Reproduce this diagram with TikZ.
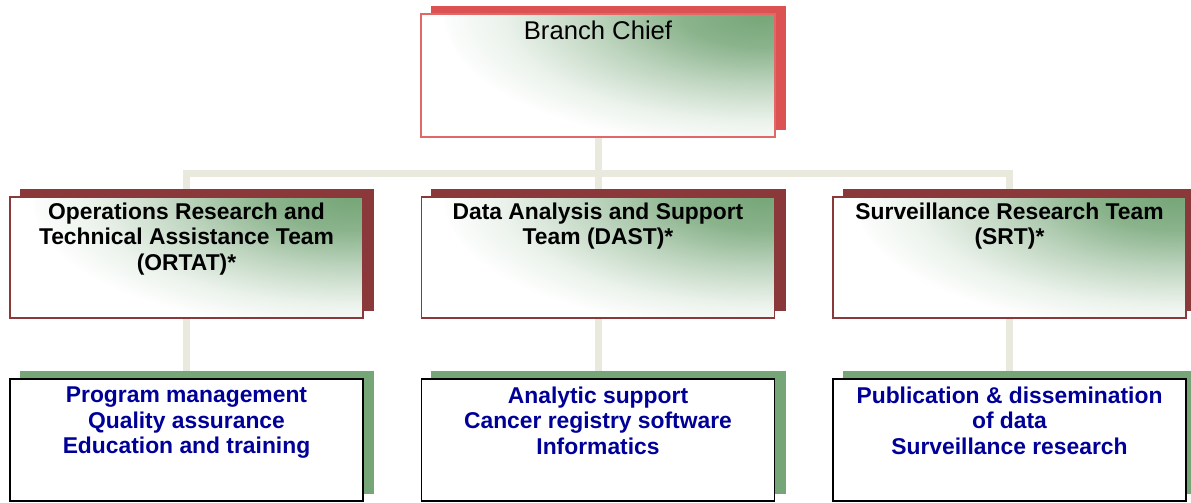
\documentclass[tikz,border=0pt]{standalone}
\usepackage{fontspec}
\setmainfont{Liberation Sans}
\usetikzlibrary{backgrounds}

\definecolor{chiefred}{RGB}{220,82,82}
\definecolor{chiefline}{RGB}{226,104,104}
\definecolor{teamred}{RGB}{139,56,58}
\definecolor{boxgreen}{RGB}{118,166,120}
\definecolor{jobsblue}{RGB}{0,0,153}
\definecolor{linkbeige}{RGB}{233,233,222}

% green corner glow, fading out to white
\pgfdeclareradialshading{cornerglow}{\pgfpoint{0bp}{0bp}}{%
    color(0bp)=(boxgreen); color(6bp)=(boxgreen!85!white);
    color(13bp)=(boxgreen!45!white); color(19bp)=(boxgreen!15!white);
    color(24bp)=(white); color(50bp)=(white)}

\tikzset{
    greenfade/.style={path picture={
        \shade[shading=cornerglow]
            (path picture bounding box.north east) ellipse (#1);}},
    chiefbox/.style={draw=chiefline, line width=1pt, fill=white,
        greenfade={6.6cm and 2.8cm},
        minimum width=7.08cm, minimum height=2.46cm},
    teambox/.style={draw=teamred, line width=1pt, fill=white,
        greenfade={6.6cm and 2.8cm},
        minimum width=7.06cm, minimum height=2.42cm},
    jobsbox/.style={draw=black, line width=1pt, fill=white,
        minimum width=7.06cm, minimum height=2.44cm},
    boxtext/.style={anchor=north, align=center, inner sep=0pt},
    teamtext/.style={boxtext, yshift=-0.12cm, font=\bfseries\fontsize{13}{14.7}\selectfont},
    jobstext/.style={boxtext, yshift=-0.16cm, text=jobsblue, font=\bfseries\fontsize{13}{14.7}\selectfont},
    link/.style={draw=linkbeige, line width=0.14cm}
}

\begin{document}
\begin{tikzpicture}
    \useasboundingbox (0, 0) rectangle (23.82, 10.04);

    % head of the branch
    \node[chiefbox,
        label={[boxtext, yshift=-0.15cm, font=\fontsize{14.6}{17}\selectfont]north:Branch Chief}]
        (chief) at (11.96, 8.53) {};

    % the three teams
    \node[teambox,
        label={[teamtext]north:{Operations Research and\\Technical Assistance Team\\(ORTAT)*}}]
        (ortat) at (3.73, 4.89) {};
    \node[teambox,
        label={[teamtext]north:{Data Analysis and Support\\Team (DAST)*}}]
        (dast) at (11.96, 4.89) {};
    \node[teambox,
        label={[teamtext]north:{Surveillance Research Team\\(SRT)*}}]
        (srt) at (20.19, 4.89) {};

    % what each team does
    \node[jobsbox,
        label={[jobstext]north:{Program management\\Quality assurance\\Education and training}}]
        (ortatjobs) at (3.73, 1.24) {};
    \node[jobsbox,
        label={[jobstext]north:{Analytic support\\Cancer registry software\\Informatics}}]
        (dastjobs) at (11.96, 1.24) {};
    \node[jobsbox,
        label={[jobstext]north:{Publication \& dissemination\\of data\\Surveillance research}}]
        (srtjobs) at (20.19, 1.24) {};

    \coordinate (bar) at (0, 6.57);

    \begin{scope}[on background layer]
        % connectors
        \draw[link] (chief.south) -- (dastjobs.north);
        \draw[link]
            (ortatjobs.north) -- (ortatjobs.north |- bar)
            -- (srtjobs.north |- bar) -- (srtjobs.north);
        % offset boxes behind each node
        \foreach \n/\c in {chief/chiefred, ortat/teamred, dast/teamred, srt/teamred,
                           ortatjobs/boxgreen, dastjobs/boxgreen, srtjobs/boxgreen}
            \fill[\c] ([shift={(0.21, 0.15)}]\n.south west)
                rectangle ([shift={(0.21, 0.15)}]\n.north east);
    \end{scope}
\end{tikzpicture}
\end{document}
